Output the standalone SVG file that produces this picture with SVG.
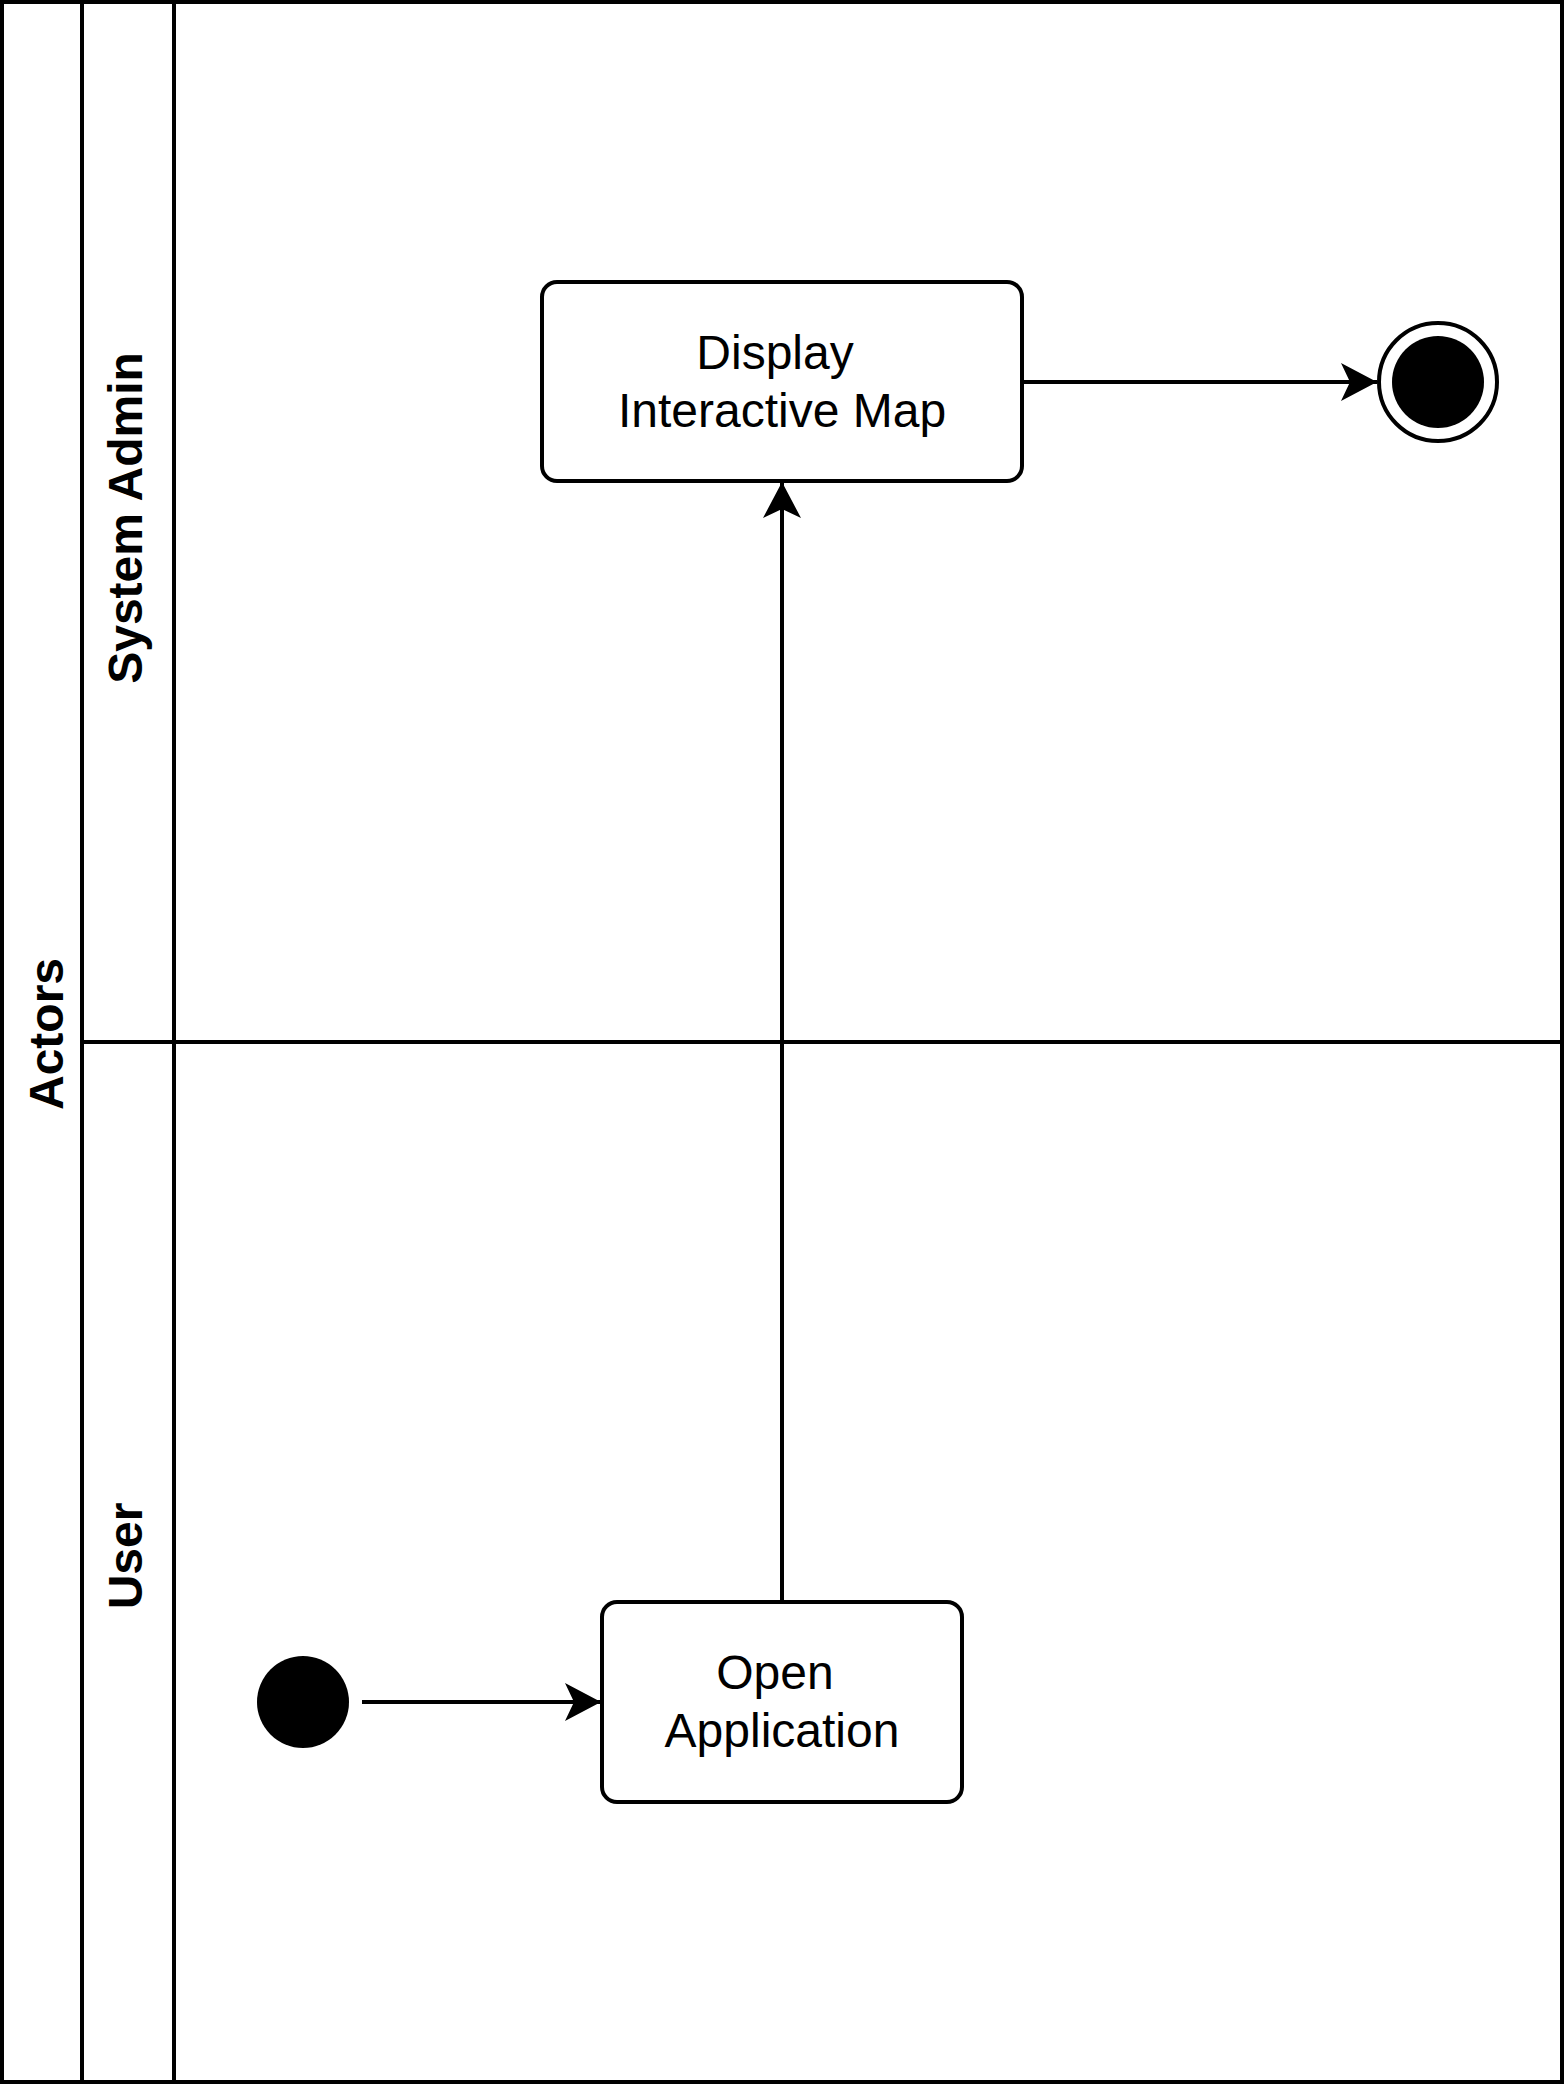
<svg xmlns="http://www.w3.org/2000/svg" width="1564" height="2084" viewBox="0 0 1564 2084">
<style>
.ln{fill:none;stroke:#000;stroke-width:4}
.box{fill:#fff;stroke:#000;stroke-width:4}
.t{font-family:"Liberation Sans",Arial,Helvetica,sans-serif;font-size:48px;fill:#000;text-anchor:middle}
.b{font-weight:bold}
</style>
<defs>
<marker id="arr" viewBox="0 0 36 38" refX="36" refY="19" markerWidth="36" markerHeight="38" markerUnits="userSpaceOnUse" orient="auto">
<path d="M36,19 L0,0 L9,19 L0,38 Z" fill="#000"/>
</marker>
</defs>
<rect width="1564" height="2084" fill="#fff"/>
<g id="pool">
<rect class="ln" x="2" y="2" width="1560" height="2080"/>
<line class="ln" x1="82" y1="2" x2="82" y2="2082"/>
<line class="ln" x1="174" y1="2" x2="174" y2="2082"/>
<line class="ln" x1="82" y1="1042" x2="1562" y2="1042"/>
<text class="t b" transform="translate(63,1034) rotate(-90)">Actors</text>
</g>
<g id="lane-system-admin">
<text class="t b" transform="translate(142,518) rotate(-90)">System Admin</text>
</g>
<g id="lane-user">
<text class="t b" transform="translate(142,1556) rotate(-90)">User</text>
</g>
<g id="connectors">
<line class="ln" x1="1022" y1="382" x2="1377" y2="382" marker-end="url(#arr)"/>
<line class="ln" x1="782" y1="1602" x2="782" y2="482" marker-end="url(#arr)"/>
<line class="ln" x1="362" y1="1702" x2="601" y2="1702" marker-end="url(#arr)"/>
</g>
<g id="display-map">
<rect class="box" x="542" y="282" width="480" height="199" rx="15" ry="15"/>
<text class="t" x="775" y="368.5">Display</text>
<text class="t" x="782" y="426.5">Interactive Map</text>
</g>
<g id="final-node">
<circle cx="1438" cy="382" r="59" fill="#fff" stroke="#000" stroke-width="4"/>
<circle cx="1438" cy="382" r="46" fill="#000"/>
</g>
<g id="open-app">
<rect class="box" x="602" y="1602" width="360" height="200" rx="15" ry="15"/>
<text class="t" x="775" y="1688.5">Open</text>
<text class="t" x="782" y="1746.5">Application</text>
</g>
<g id="initial-node">
<circle cx="303" cy="1702" r="46" fill="#000"/>
</g>
</svg>
